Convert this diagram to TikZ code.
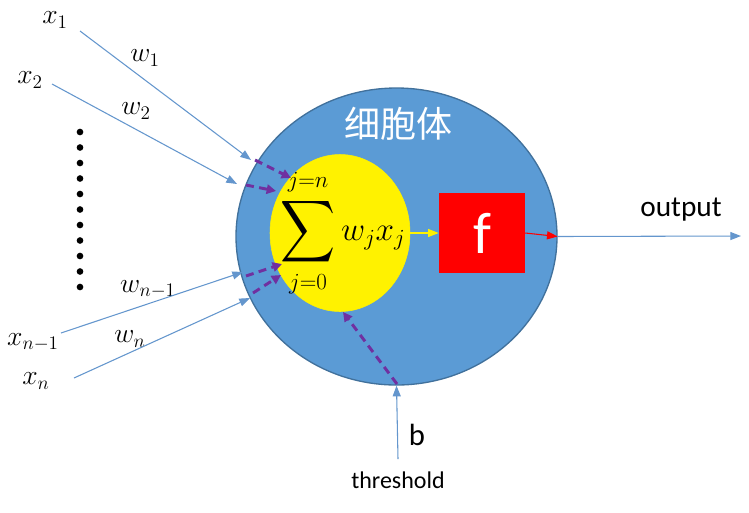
\documentclass[tikz,border=0pt]{standalone}
\usepackage{fontspec}
\usepackage{amsmath}
\usepackage{graphicx}
\setmainfont{Carlito}
\newfontfamily\cjk{Noto Sans CJK SC}
\usetikzlibrary{arrows.meta,shapes.geometric}
\definecolor{cellblue}{RGB}{91,155,213}
\definecolor{cellborder}{RGB}{65,113,156}
\definecolor{lineblue}{RGB}{100,150,205}
\definecolor{dpurple}{RGB}{112,48,160}
\newcommand{\bigsumsym}{\mathop{\vcenter{\hbox{\raisebox{0pt}[\dimexpr\height+1.5pt][\dimexpr\depth+1.5pt]{\scalebox{1.15}[1.3]{$\displaystyle\sum$}}}}}\limits}
\tikzset{
  inline/.style={draw=lineblue, line width=0.8pt, -{Triangle[length=8pt,width=6pt]}},
  purplearrow/.style={draw=dpurple, line width=2.2pt, dash pattern=on 6pt off 4pt, -{Triangle[length=7pt,width=7pt]}},
  mlabel/.style={inner sep=0pt, font=\fontsize{21}{25}\selectfont},
  dotmark/.style={circle, fill=black, inner sep=0pt, minimum size=5pt}
}
\begin{document}
\begin{tikzpicture}[x=0.75pt,y=-0.75pt]
\useasboundingbox (0,0) rectangle (749,512);
% cell body
\node (cell) [ellipse, draw=cellborder, fill=cellblue, line width=1pt, minimum width=321pt*0.75, minimum height=297pt*0.75, inner sep=0pt] at (396.5,236.5) {};
\node (soma) [text=white, font=\cjk\fontsize{27}{30}\selectfont] at (398,124) {细胞体};
\node (sum) [ellipse, draw=yellow, fill=yellow, minimum width=140pt*0.75, minimum height=157pt*0.75, inner sep=0pt] at (340,233) {};
\node (formula) [font=\fontsize{24}{28}\selectfont, inner sep=0pt] at (343,233) {$\displaystyle\bigsumsym_{j=0}^{j=n} w_j x_j$};
\node (f) [rectangle, fill=red, minimum width=86pt*0.75, minimum height=80pt*0.75, inner sep=0pt, text=white, font=\fontsize{44}{48}\selectfont] at (482,233) {f};
% inputs
\node (x1) [mlabel] at (55,20) {$x_1$};
\node (x2) [mlabel] at (30,80) {$x_2$};
\node (xn1) [mlabel] at (33,342) {$x_{n-1}$};
\node (xn) [mlabel] at (36,381) {$x_n$};
\node (w1) [mlabel] at (145,58) {$w_1$};
\node (w2) [mlabel] at (136,111) {$w_2$};
\node (wn1) [mlabel] at (148,289) {$w_{n-1}$};
\node (wn) [mlabel] at (130,339) {$w_n$};
\coordinate (s1) at (80,31);
\coordinate (e1) at (251,160);
\coordinate (s2) at (52,84);
\coordinate (e2) at (237,184);
\coordinate (s3) at (61,333);
\coordinate (e3) at (243,272);
\coordinate (s4) at (74,378);
\coordinate (e4) at (250,298);
\draw[inline] (s1) -- (e1);
\draw[inline] (s2) -- (e2);
\draw[inline] (s3) -- (e3);
\draw[inline] (s4) -- (e4);
% dots
\foreach \i in {0,...,10} \node[dotmark] (d\i) at (80,132+15.5*\i) {};
% purple dashed
\coordinate (p1) at (255,160); \coordinate (q1) at (291,178);
\coordinate (p2) at (246,185); \coordinate (q2) at (276,191);
\coordinate (p3) at (246,276); \coordinate (q3) at (282,264);
\coordinate (p4) at (253,293); \coordinate (q4) at (281,275);
\coordinate (p5) at (397,384); \coordinate (q5) at (343,312);
\draw[purplearrow] (p1) -- (q1);
\draw[purplearrow] (p2) -- (q2);
\draw[purplearrow] (p3) -- (q3);
\draw[purplearrow] (p4) -- (q4);
\draw[purplearrow] (p5) -- (q5);
% internal arrows
\draw[draw=yellow, line width=0.8pt, -{Triangle[length=8pt,width=6pt]}] (sum.east) -- (f.west);
\draw[draw=red, line width=0.8pt, -{Triangle[length=8pt,width=6pt]}] (f.east) -- (cell.east);
\coordinate (outend) at (741,236);
\draw[inline] (cell.east) -- (outend);
\node (output) [font=\fontsize{22}{26}\selectfont] at (681,210) {output};
% threshold
\node (thr) [font=\fontsize{18}{21}\selectfont] at (398,480) {threshold};
\coordinate (bstart) at (398,459);
\draw[inline] (bstart) -- (cell.south);
\node (b) [font=\fontsize{23}{26}\selectfont] at (417,435) {b};
\end{tikzpicture}
\end{document}
